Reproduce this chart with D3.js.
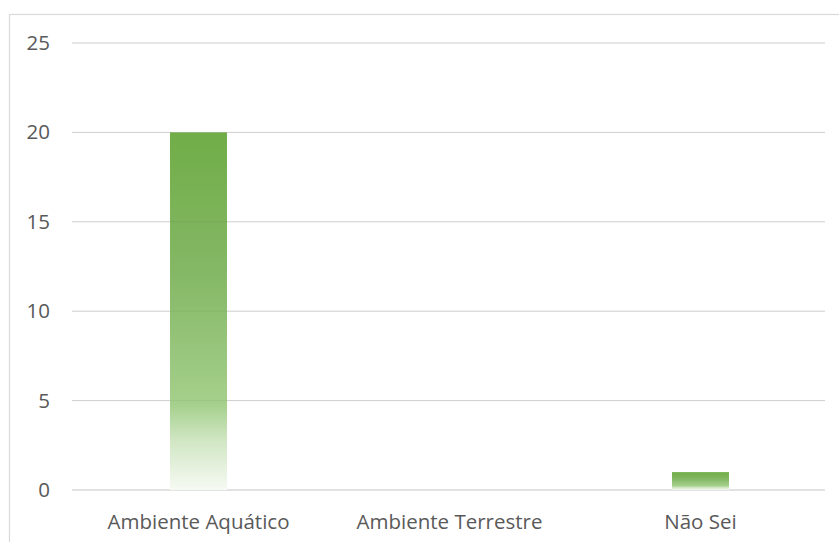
<!DOCTYPE html>
<html>
<head>
<meta charset="utf-8">
<script src="https://cdn.jsdelivr.net/npm/d3@7"></script>
<style>
  html, body { margin: 0; padding: 0; background: #fff; }
  svg { display: block; }
</style>
</head>
<body>
<svg id="chart" width="839" height="542"></svg>
<script>
// Respostas: onde vive o organismo
const categories = ["Ambiente Aquático", "Ambiente Terrestre", "Não Sei"];
const values = [20, 0, 1];
const yTicks = [0, 5, 10, 15, 20, 25];

const W = 839, H = 542;
const margin = { left: 72, right: 14, top: 43, bottom: 52 };
const svg = d3.select("#chart");
const font = "'Open Sans', Lato, sans-serif";

const x = d3.scaleBand()
  .domain(categories)
  .range([margin.left + 1, W - margin.right + 1])
  .paddingInner(0.773)
  .paddingOuter(0.3865);

const y = d3.scaleLinear()
  .domain([0, 25])
  .range([H - margin.bottom, margin.top]);

// outer chart frame
svg.append("rect")
  .attr("x", 9.5).attr("y", 14.5)
  .attr("width", W + 20).attr("height", H + 20)
  .attr("fill", "none").attr("stroke", "#D9D9D9").attr("stroke-width", 1.2);

// vertical gradient fill of the bars
const defs = svg.append("defs");
const grad = defs.append("linearGradient")
  .attr("id", "barGrad")
  .attr("x1", 0).attr("y1", 0).attr("x2", 0).attr("y2", 1);
[
  [0, "#70AD47"],
  [0.4, "#85B866"],
  [0.76, "#A5D08C"],
  [0.86, "#D0E6C3"],
  [1, "#F6FAF3"]
].forEach(([o, c]) => grad.append("stop").attr("offset", o).attr("stop-color", c));

// gridlines
svg.append("g")
  .selectAll("line")
  .data(yTicks)
  .join("line")
  .attr("x1", margin.left).attr("x2", W - margin.right)
  .attr("y1", d => y(d)).attr("y2", d => y(d))
  .attr("stroke", "#D9D9D9").attr("stroke-width", d => d === 0 ? 1.5 : 1);

// bars
svg.append("g")
  .selectAll("rect")
  .data(categories.map((c, i) => ({ c, v: values[i] })).filter(d => d.v > 0))
  .join("rect")
  .attr("x", d => x(d.c))
  .attr("width", x.bandwidth())
  .attr("y", d => y(d.v))
  .attr("height", d => y(0) - y(d.v))
  .attr("fill", "url(#barGrad)");

// faint gridlines visible through the bars
svg.append("g")
  .selectAll("line")
  .data(yTicks.filter(d => d > 0))
  .join("line")
  .attr("x1", margin.left).attr("x2", W - margin.right)
  .attr("y1", d => y(d)).attr("y2", d => y(d))
  .attr("stroke", "rgba(0,0,0,0.05)").attr("stroke-width", 1);

// y axis labels
const yAxis = d3.axisLeft(y).tickValues(yTicks).tickSize(0).tickPadding(0);
const ya = svg.append("g")
  .attr("transform", `translate(50,0)`)
  .call(yAxis);
ya.select(".domain").remove();
ya.selectAll("text")
  .attr("font-family", font)
  .attr("font-size", 20.5)
  .attr("fill", "#595959");

// x axis labels
const xAxis = d3.axisBottom(x).tickSize(0).tickPadding(0);
const xa = svg.append("g")
  .attr("transform", `translate(0,${y(0) + 24})`)
  .call(xAxis);
xa.select(".domain").remove();
xa.selectAll("text")
  .attr("font-family", font)
  .attr("font-size", 20.5)
  .attr("fill", "#595959");
</script>
</body>
</html>
